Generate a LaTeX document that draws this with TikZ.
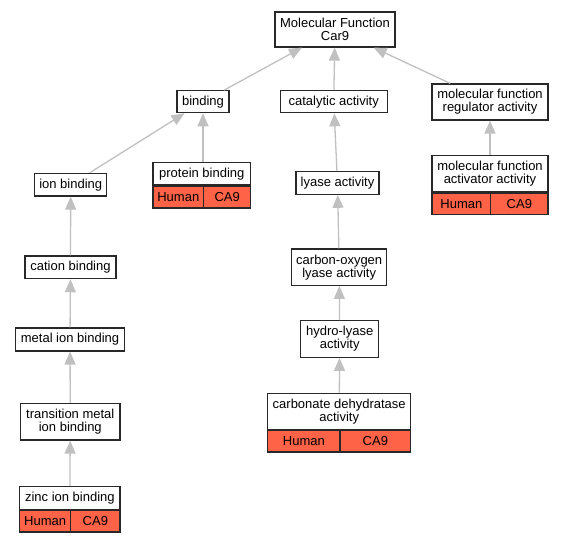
\documentclass[tikz,border=0pt]{standalone}
\usepackage{fontspec}
\setmainfont{Liberation Sans}
\usetikzlibrary{arrows.meta}
\definecolor{edgegray}{RGB}{192,192,192}
\definecolor{boxline}{RGB}{40,40,40}
\definecolor{tomato}{RGB}{255,99,71}
\begin{document}
\begin{tikzpicture}[x=1pt,y=-1pt,
  box/.style={draw=boxline, line width=1.2pt, fill=white, inner sep=0pt, align=center,
    font=\fontsize{13}{13}\selectfont},
  redcell/.style={box, fill=tomato},
  edge/.style={draw=edgegray, line width=1.3pt, -{Triangle[length=13pt,width=11pt]}}]
\useasboundingbox (0,0) rectangle (563,541);
% plain boxes
\node[box, minimum width=120pt, minimum height=35pt] (mf) at (335,29.5) {Molecular Function\\Car9};
\node[box, minimum width=52pt, minimum height=22pt] (bind) at (203,101.7) {binding};
\node[box, minimum width=107pt, minimum height=22pt] (cat) at (333.7,101.7) {catalytic activity};
\node[box, minimum width=116pt, minimum height=36pt] (reg) at (490,102) {molecular function\\regulator activity};
\node[box, minimum width=72pt, minimum height=22.7pt] (ion) at (70.7,184.7) {ion binding};
\node[box, minimum width=91pt, minimum height=22.7pt] (cation) at (70.5,267.3) {cation binding};
\node[box, minimum width=108.6pt, minimum height=23pt] (metal) at (70,339.5) {metal ion binding};
\node[box, minimum width=99.3pt, minimum height=36.7pt] (trans) at (70.3,421.7) {transition metal\\ion binding};
\node[box, minimum width=83pt, minimum height=23pt] (lyase) at (337.5,182.7) {lyase activity};
\node[box, minimum width=95pt, minimum height=36.3pt] (co) at (339.2,267.2) {carbon-oxygen\\lyase activity};
\node[box, minimum width=78pt, minimum height=36.6pt] (hydro) at (339.7,339) {hydro-lyase\\activity};
% table nodes
\node[box, minimum width=97.7pt, minimum height=22pt] (pb) at (201.8,173.7) {protein binding};
\node[redcell, minimum width=50.7pt, minimum height=22pt, anchor=north west] (pbh) at (pb.south west) {Human};
\node[redcell, minimum width=47pt, minimum height=22pt, anchor=north east] (pbc) at (pb.south east) {CA9};
\node[box, minimum width=100.3pt, minimum height=22.6pt] (zinc) at (69.85,498) {zinc ion binding};
\node[redcell, minimum width=51pt, minimum height=21.4pt, anchor=north west] (zinch) at (zinc.south west) {Human};
\node[redcell, minimum width=49.3pt, minimum height=21.4pt, anchor=north east] (zincc) at (zinc.south east) {CA9};
\node[box, minimum width=143pt, minimum height=36pt] (cd) at (339.2,411.3) {carbonate dehydratase\\activity};
\node[redcell, minimum width=72.3pt, minimum height=21.4pt, anchor=north west] (cdh) at (cd.south west) {Human};
\node[redcell, minimum width=70.7pt, minimum height=21.4pt, anchor=north east] (cdc) at (cd.south east) {CA9};
\node[box, minimum width=116pt, minimum height=36.4pt] (act) at (490,173.5) {molecular function\\activator activity};
\node[redcell, minimum width=58.7pt, minimum height=21.6pt, anchor=north west] (acth) at (act.south west) {Human};
\node[redcell, minimum width=57.3pt, minimum height=21.6pt, anchor=north east] (actc) at (act.south east) {CA9};
% edges
\draw[edge] (bind) -- (mf);
\draw[edge] (cat) -- (mf);
\draw[edge] (reg) -- (mf);
\draw[edge] (ion) -- (bind);
\draw[edge] (pb.north -| bind) -- (bind);
\draw[edge] (lyase) -- (cat);
\draw[edge] (act) -- (reg);
\draw[edge] (cation) -- (ion);
\draw[edge] (metal) -- (cation);
\draw[edge] (trans) -- (metal);
\draw[edge] (zinc) -- (trans);
\draw[edge] (co) -- (lyase);
\draw[edge] (hydro) -- (co);
\draw[edge] (cd) -- (hydro);
\end{tikzpicture}
\end{document}
